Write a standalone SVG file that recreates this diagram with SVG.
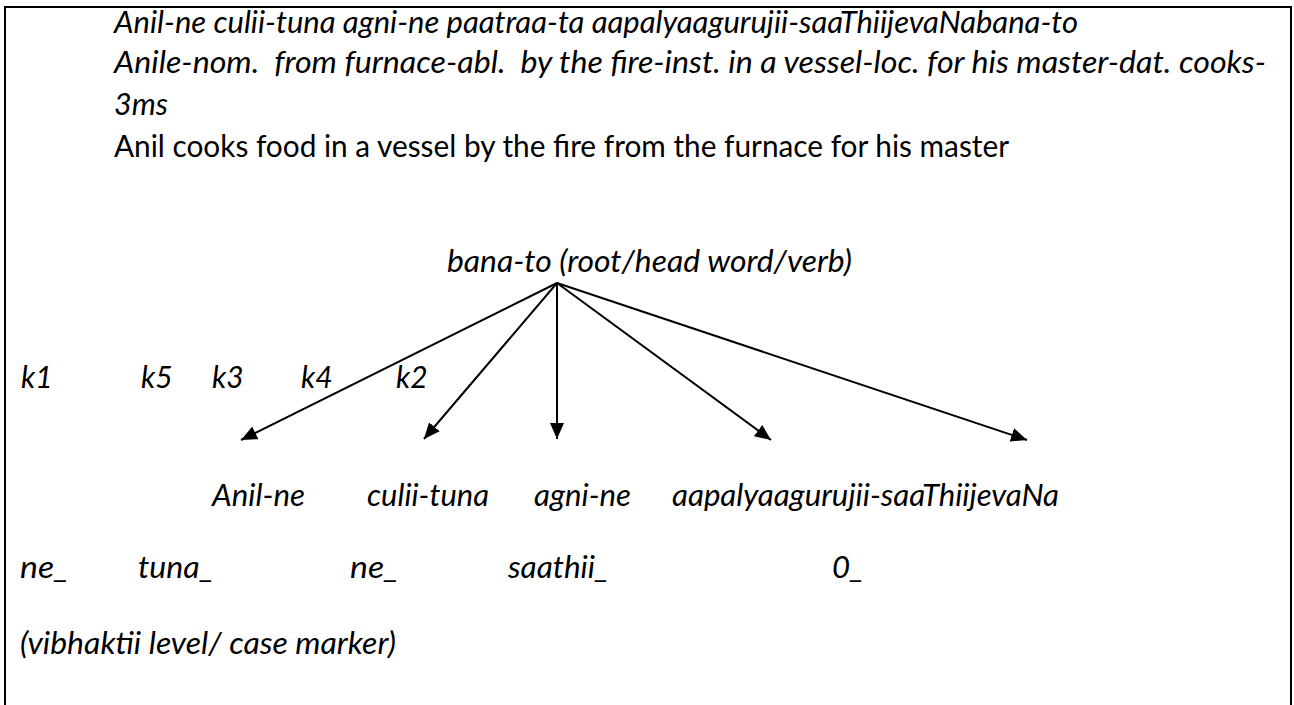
<svg xmlns="http://www.w3.org/2000/svg" width="1294" height="705" viewBox="0 0 1294 705">
  <style>
    text { font-family: Lato, "Liberation Sans", sans-serif; font-size: 30px; fill: #000; }
    .it { font-style: italic; }
    .edge { stroke: #000; stroke-width: 2; fill: none; marker-end: url(#head); }
  </style>
  <defs>
    <marker id="head" markerUnits="userSpaceOnUse" markerWidth="18" markerHeight="14" refX="16" refY="7" orient="auto">
      <path d="M0,0 L16,7 L0,14 Z" fill="#000"/>
    </marker>
  </defs>
  <rect width="1294" height="705" fill="#fff"/>
  <!-- page frame, open at the bottom -->
  <path d="M5,712 V7 H1291 V712" fill="none" stroke="#000" stroke-width="2"/>

  <!-- sentence, gloss and translation -->
  <g id="sentence">
    <text class="it" x="114" y="33" textLength="964" lengthAdjust="spacingAndGlyphs">Anil-ne culii-tuna agni-ne paatraa-ta aapalyaagurujii-saaThiijevaNabana-to</text>
    <text class="it" x="114" y="73" textLength="1152" lengthAdjust="spacingAndGlyphs" xml:space="preserve">Anile-nom.  from furnace-abl.  by the fire-inst. in a vessel-loc. for his master-dat. cooks-</text>
    <text class="it" x="114" y="115" textLength="54" lengthAdjust="spacingAndGlyphs">3ms</text>
    <text x="114" y="157" textLength="895" lengthAdjust="spacingAndGlyphs">Anil cooks food in a vessel by the fire from the furnace for his master</text>
  </g>

  <g id="root">
    <text class="it" x="447" y="272" textLength="405" lengthAdjust="spacingAndGlyphs">bana-to (root/head word/verb)</text>
  </g>

  <g id="karaka-labels">
    <text class="it" x="21" y="388">k1</text>
    <text class="it" x="141" y="388">k5</text>
    <text class="it" x="212" y="388">k3</text>
    <text class="it" x="301" y="388">k4</text>
    <text class="it" x="396" y="388">k2</text>
  </g>

  <g id="edges">
    <line class="edge" x1="557" y1="283" x2="241" y2="440"/>
    <line class="edge" x1="557" y1="283" x2="424" y2="439"/>
    <line class="edge" x1="557" y1="283" x2="557" y2="439"/>
    <line class="edge" x1="557" y1="283" x2="771" y2="440"/>
    <line class="edge" x1="557" y1="283" x2="1027" y2="440"/>
  </g>

  <g id="dependents">
    <text class="it" x="212" y="506" textLength="93" lengthAdjust="spacingAndGlyphs">Anil-ne</text>
    <text class="it" x="367" y="506" textLength="122" lengthAdjust="spacingAndGlyphs">culii-tuna</text>
    <text class="it" x="534" y="506" textLength="97" lengthAdjust="spacingAndGlyphs">agni-ne</text>
    <text class="it" x="672" y="506" textLength="387" lengthAdjust="spacingAndGlyphs">aapalyaagurujii-saaThiijevaNa</text>
  </g>

  <g id="vibhakti">
    <text class="it" x="20" y="578" textLength="49" lengthAdjust="spacingAndGlyphs">ne_</text>
    <text class="it" x="138" y="578" textLength="76" lengthAdjust="spacingAndGlyphs">tuna_</text>
    <text class="it" x="350" y="578" textLength="49" lengthAdjust="spacingAndGlyphs">ne_</text>
    <text class="it" x="508" y="578" textLength="101" lengthAdjust="spacingAndGlyphs">saathii_</text>
    <text class="it" x="832" y="578" textLength="32" lengthAdjust="spacingAndGlyphs">0_</text>
    <text class="it" x="20" y="654" textLength="376" lengthAdjust="spacingAndGlyphs">(vibhaktii level/ case marker)</text>
  </g>
</svg>
